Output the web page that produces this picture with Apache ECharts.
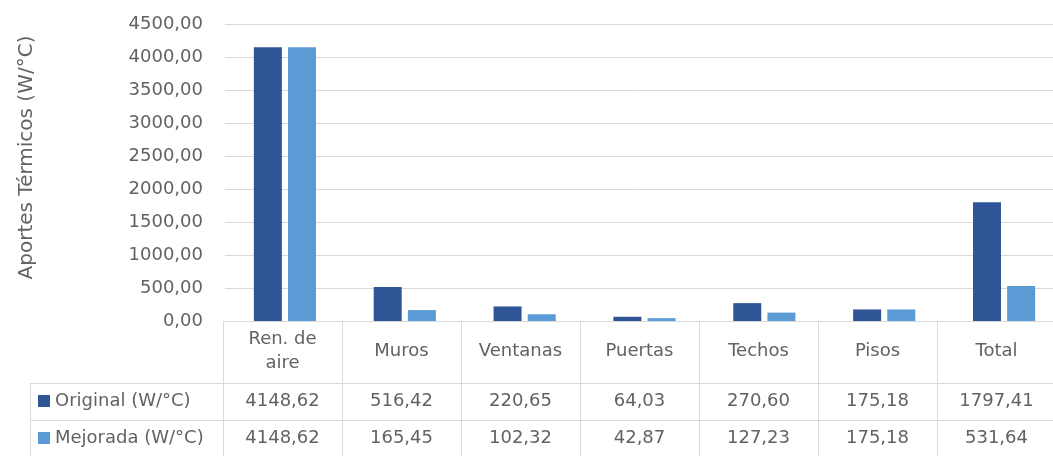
<!DOCTYPE html>
<html>
<head>
<meta charset="utf-8">
<script src="https://cdn.jsdelivr.net/npm/echarts@6/dist/echarts.min.js"></script>
<style>
  html, body { margin: 0; padding: 0; background: #fff; }
</style>
</head>
<body>
<div id="chart" style="width: 1053px; height: 456px"></div>
<script>
// datos
const categorias = ["Ren. de\naire", "Muros", "Ventanas", "Puertas", "Techos", "Pisos", "Total"];
const original = [4148.62, 516.42, 220.65, 64.03, 270.60, 175.18, 1797.41];
const mejorada = [4148.62, 165.45, 102.32, 42.87, 127.23, 175.18, 531.64];
const nombreOriginal = "Original (W/°C)";
const nombreMejorada = "Mejorada (W/°C)";

const colorOscuro = "#2F5597";
const colorClaro = "#5B9BD5";
const gris = "#626262";
const lineaTabla = "#d9d9d9";
const fuente = "'DejaVu Sans', sans-serif";

// formato con coma decimal
const fmt = (v) => v.toFixed(2).replace(".", ",");

const myChart = echarts.init(document.getElementById("chart"));

// eje x extra para cada fila de la tabla
function filaTabla(valores, margen) {
  return {
    type: "category",
    gridIndex: 1,
    data: categorias,
    position: "bottom",
    axisLine: { show: false },
    axisTick: { show: false },
    axisLabel: {
      margin: margen,
      verticalAlign: "middle",
      color: gris,
      fontSize: 18,
      fontFamily: fuente,
      formatter: (v, i) => fmt(valores[i]),
    },
  };
}

const option = {
  animation: false,
  grid: [
    // barras (Excel las desplaza un poco respecto a la tabla)
    { left: 225, right: -11, top: 24, bottom: 135, outerBoundsMode: "none" },
    // tabla de datos
    { left: 223, right: -3, top: 24, bottom: 135, outerBoundsMode: "none" },
  ],
  legend: {
    left: 38,
    top: 391,
    padding: 0,
    orient: "vertical",
    itemWidth: 12,
    itemHeight: 12,
    itemGap: 17,
    icon: "rect",
    textStyle: { color: gris, fontSize: 18, fontFamily: fuente, lineHeight: 20 },
    data: [nombreOriginal, nombreMejorada],
  },
  xAxis: [
    {
      type: "category",
      gridIndex: 0,
      data: categorias,
      axisLine: { show: false },
      axisTick: { show: false },
      axisLabel: { show: false },
    },
    {
      type: "category",
      gridIndex: 1,
      data: categorias,
      position: "bottom",
      axisLine: { show: true, lineStyle: { color: lineaTabla } },
      axisTick: { show: true, length: 135, lineStyle: { color: lineaTabla } },
      axisLabel: {
        margin: 30,
        verticalAlign: "middle",
        color: gris,
        fontSize: 18,
        lineHeight: 24,
        fontFamily: fuente,
      },
    },
    filaTabla(original, 80),
    filaTabla(mejorada, 117),
  ],
  yAxis: [
    {
      type: "value",
      gridIndex: 0,
      min: 0,
      max: 4500,
      interval: 500,
      name: "Aportes Térmicos (W/°C)",
      nameLocation: "middle",
      nameRotate: 90,
      nameGap: 188,
      nameTextStyle: { color: gris, fontSize: 20, fontFamily: fuente, padding: [0, 0, 0, 30] },
      axisLine: { show: false },
      axisTick: { show: false },
      axisLabel: { color: gris, fontSize: 18, fontFamily: fuente, margin: 22, formatter: (v) => fmt(v) },
      splitLine: { lineStyle: { color: lineaTabla } },
    },
    {
      type: "value",
      gridIndex: 1,
      min: 0,
      max: 4500,
      show: false,
    },
  ],
  series: [
    {
      name: nombreOriginal,
      type: "bar",
      data: original,
      barWidth: 28,
      barGap: "22%",
      itemStyle: { color: colorOscuro },
    },
    {
      name: nombreMejorada,
      type: "bar",
      data: mejorada,
      barWidth: 28,
      itemStyle: { color: colorClaro },
    },
  ],
  // bordes de la tabla
  graphic: [
    { type: "line", shape: { x1: 30, y1: 383.5, x2: 1053, y2: 383.5 }, style: { stroke: lineaTabla } },
    { type: "line", shape: { x1: 30, y1: 420.5, x2: 1053, y2: 420.5 }, style: { stroke: lineaTabla } },
    { type: "line", shape: { x1: 30.5, y1: 383, x2: 30.5, y2: 456 }, style: { stroke: lineaTabla } },
  ],
};

myChart.setOption(option);
</script>
</body>
</html>
